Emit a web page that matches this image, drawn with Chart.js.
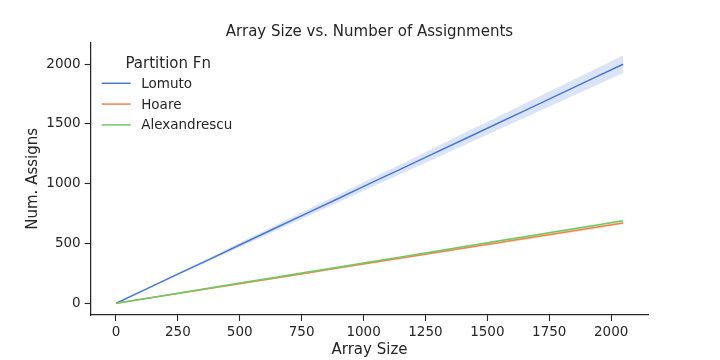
<!DOCTYPE html>
<html>
<head>
<meta charset="utf-8">
<script src="https://cdn.jsdelivr.net/npm/chart.js@4/dist/chart.umd.min.js"></script>
<style>
  html, body { margin: 0; padding: 0; background: #fff; }
</style>
</head>
<body>
<canvas id="chart" width="720" height="360"></canvas>
<script>
// values
const sizes = [1, 128, 256, 384, 512, 640, 768, 896, 1024, 1152, 1280, 1408, 1536, 1664, 1792, 1920, 2048];

const lomuto   = [0, 125, 250, 374, 500, 625, 750, 874, 1000, 1124, 1249, 1374, 1499, 1624, 1749, 1874, 1999];
const lomutoLo = [0, 120, 241, 360, 482, 602, 722, 842, 963, 1083, 1203, 1323, 1444, 1564, 1685, 1805, 1925];
const lomutoHi = [0, 130, 259, 388, 518, 648, 778, 906, 1037, 1165, 1295, 1425, 1554, 1684, 1813, 1943, 2073];

const hoare   = [0, 42, 84, 126, 168, 210, 252, 294, 336, 378, 420, 462, 504, 546, 588, 630, 672];
const hoareLo = [0, 41, 82, 123, 164, 205, 246, 287, 328, 369, 410, 451, 492, 533, 574, 615, 660];
const hoareHi = [0, 43, 86, 129, 172, 215, 258, 301, 344, 387, 430, 473, 516, 559, 602, 645, 684];

const alex   = [0, 43, 86, 129, 173, 216, 259, 302, 345, 388, 431, 474, 518, 561, 604, 647, 690];
const alexLo = [0, 42, 85, 127, 171, 213, 255, 298, 340, 383, 425, 468, 511, 553, 596, 638, 681];
const alexHi = [0, 44, 87, 131, 175, 219, 263, 306, 350, 393, 437, 480, 525, 569, 612, 656, 699];

const xTicks = [0, 250, 500, 750, 1000, 1250, 1500, 1750, 2000];
const yTicks = [0, 500, 1000, 1500, 2000];

const ink = "#262626";
const font = "'DejaVu Sans', sans-serif";

function pts(arr) {
    return sizes.map((x, i) => ({ x: x, y: arr[i] }));
}

function line(label, arr, color, order) {
    return {
        label: label,
        data: pts(arr),
        borderColor: color,
        borderWidth: 1.5,
        pointRadius: 0,
        fill: false,
        order: order,
        legend: true
    };
}

function band(arr, fill, color, order) {
    return {
        data: pts(arr),
        borderWidth: 0,
        pointRadius: 0,
        backgroundColor: color,
        fill: fill,
        order: order
    };
}

const datasets = [
    line("Lomuto", lomuto, "#4878d0", 2),
    line("Hoare", hoare, "#ee854a", 1),
    line("Alexandrescu", alex, "#6acc64", 0),
    band(lomutoHi, "+1", "rgba(72,120,208,0.2)", 5),
    band(lomutoLo, false, "rgba(0,0,0,0)", 5),
    band(hoareHi, "+1", "rgba(238,133,74,0.2)", 4),
    band(hoareLo, false, "rgba(0,0,0,0)", 4),
    band(alexHi, "+1", "rgba(106,204,100,0.2)", 3),
    band(alexLo, false, "rgba(0,0,0,0)", 3)
];

// title over the axes and a matplotlib-style legend inside them
const decor = {
    id: "decor",
    afterDraw(chart) {
        const ctx = chart.ctx;
        const a = chart.chartArea;
        ctx.save();
        ctx.fillStyle = ink;
        ctx.textBaseline = "middle";
        ctx.textAlign = "center";
        ctx.font = "15px " + font;
        ctx.fillText("Array Size vs. Number of Assignments", (a.left + a.right) / 2, 32.5);
        ctx.fillText("Partition Fn", a.left + 77.5, a.top + 21);
        ctx.textAlign = "left";
        ctx.font = "13.5px " + font;
        let y = a.top + 40.6;
        chart.data.datasets.filter(d => d.legend).forEach(d => {
            ctx.strokeStyle = d.borderColor;
            ctx.lineWidth = 1.5;
            ctx.beginPath();
            ctx.moveTo(a.left + 11, y);
            ctx.lineTo(a.left + 40, y);
            ctx.stroke();
            ctx.fillText(d.label, a.left + 50.5, y + 1);
            y += 20.8;
        });
        ctx.restore();
    }
};

new Chart(document.getElementById("chart"), {
    type: "line",
    data: { datasets },
    options: {
        responsive: false,
        animation: false,
        layout: { padding: { left: 0, right: 71.7, top: 42.7, bottom: 0 } },
        plugins: {
            legend: { display: false },
            tooltip: { enabled: false }
        },
        scales: {
            x: {
                type: "linear",
                min: -102,
                max: 2150,
                afterBuildTicks: axis => { axis.ticks = xTicks.map(v => ({ value: v })); },
                afterFit: axis => { axis.height = 45; },
                grid: { drawOnChartArea: false, tickLength: 6, color: ink, tickWidth: 1.1 },
                border: { display: true, color: ink, width: 1.25 },
                ticks: { color: ink, font: { family: font, size: 13.5 }, padding: 3, maxRotation: 0, callback: v => String(v) },
                title: {
                    display: true,
                    text: "Array Size",
                    color: ink,
                    font: { family: font, size: 15 },
                    padding: { top: 0, bottom: 1 }
                }
            },
            y: {
                min: -98,
                max: 2179,
                afterBuildTicks: axis => { axis.ticks = yTicks.map(v => ({ value: v })); },
                afterFit: axis => { axis.width = 90.7; },
                grid: { drawOnChartArea: false, tickLength: 6, color: ink, tickWidth: 1.1 },
                border: { display: true, color: ink, width: 1.25 },
                ticks: { color: ink, font: { family: font, size: 13.5 }, padding: 4, callback: v => String(v) },
                title: {
                    display: true,
                    text: "Num. Assigns",
                    color: ink,
                    font: { family: font, size: 15 },
                    padding: { top: 24, bottom: 0 }
                }
            }
        }
    },
    plugins: [decor]
});
</script>
</body>
</html>
